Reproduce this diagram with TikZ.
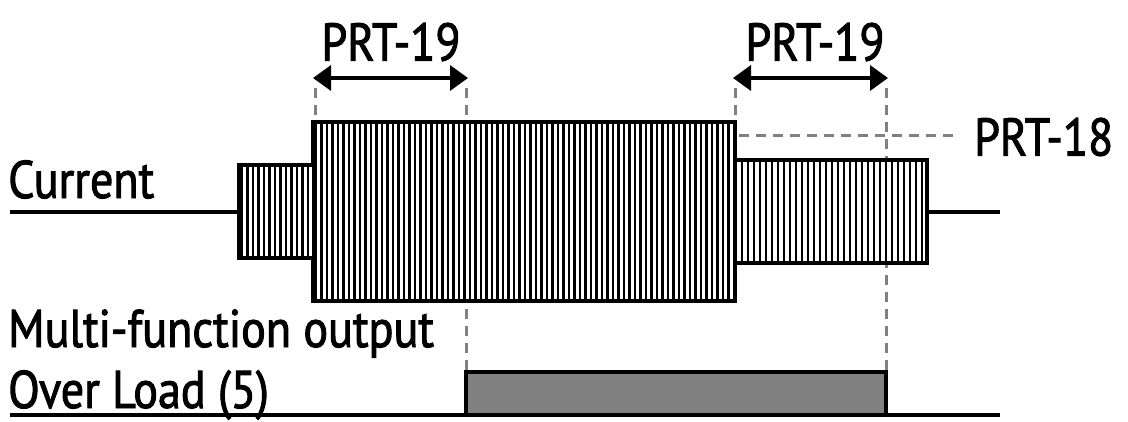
\documentclass[tikz,border=0pt]{standalone}
\usepackage{fontspec}
\setmainfont[FakeStretch=0.87,FakeBold=1.8]{PT Sans}
\usetikzlibrary{arrows.meta}
\begin{document}
\begin{tikzpicture}[x=1pt,y=-1pt,
  lbl/.style={inner sep=0pt,font=\fontsize{53}{53}\selectfont},
  sig/.style={line width=4pt,line join=miter},
  stripe/.style={line width=2.7pt},
  guide/.style={draw=gray,line width=3pt,dash pattern=on 10pt off 7pt},
  dim/.style={line width=3.5pt,{Triangle[length=18pt,width=25pt]}-{Triangle[length=18pt,width=25pt]}}]
\useasboundingbox (0,0) rectangle (1128,421);
% coordinates
\coordinate (c0) at (10,212);
\coordinate (c1) at (1000,212);
% guides (behind the current waveform)
\draw[guide] (315,88) -- (315,122);
\draw[guide] (466,88) -- (466,372);
\draw[guide] (735,88) -- (735,122);
\draw[guide] (886,88) -- (886,372);
\draw[guide] (739,135) -- (958,135);
% white backgrounds
\fill[white] (239,165) rectangle (315,258);
\fill[white] (313,122) rectangle (735,301);
\fill[white] (733,160) rectangle (927,263);
% stripes
\begin{scope}
\clip (239,165) rectangle (315,258);
\foreach \x in {242,247.5,...,316} \draw[stripe] (\x,150) -- (\x,270);
\end{scope}
\begin{scope}
\clip (313,122) rectangle (735,301);
\foreach \x in {316,321.5,...,736} \draw[stripe] (\x,110) -- (\x,310);
\end{scope}
\begin{scope}
\clip (733,160) rectangle (927,263);
\foreach \x in {736,742,...,928} \draw[stripe] (\x,150) -- (\x,270);
\end{scope}
% current signal outline
\draw[sig] (c0) -- (239,212) -- (239,165) -- (313,165) -- (313,122) -- (735,122) -- (735,160) -- (927,160) -- (927,212) -- (c1);
\draw[sig] (239,212) -- (239,258) -- (313,258) -- (313,301) -- (735,301) -- (735,263) -- (927,263) -- (927,212);
% output
\coordinate (o0) at (10,415);
\coordinate (o1) at (1000,415);
\draw[sig,fill=gray] (466,415) -- (466,372) -- (886,372) -- (886,415);
\draw[sig] (o0) -- (o1);
% arrows
\coordinate (a1) at (313,78);
\coordinate (a2) at (468,78);
\coordinate (a3) at (733,78);
\coordinate (a4) at (888,78);
\draw[dim] (a1) -- (a2);
\draw[dim] (a3) -- (a4);
% labels
\node[lbl] (t1) at (391,42) {PRT-19};
\node[lbl] (t2) at (815,42) {PRT-19};
\node[lbl,anchor=west] (t3) at (974,137) {PRT-18};
\node[lbl,anchor=base west] (t4) at (8,198) {Current};
\node[lbl,anchor=base west] (t5) at (8,347) {Multi-function output};
\node[lbl,anchor=base west] (t6) at (8,408) {Over Load (5)};
\end{tikzpicture}
\end{document}
